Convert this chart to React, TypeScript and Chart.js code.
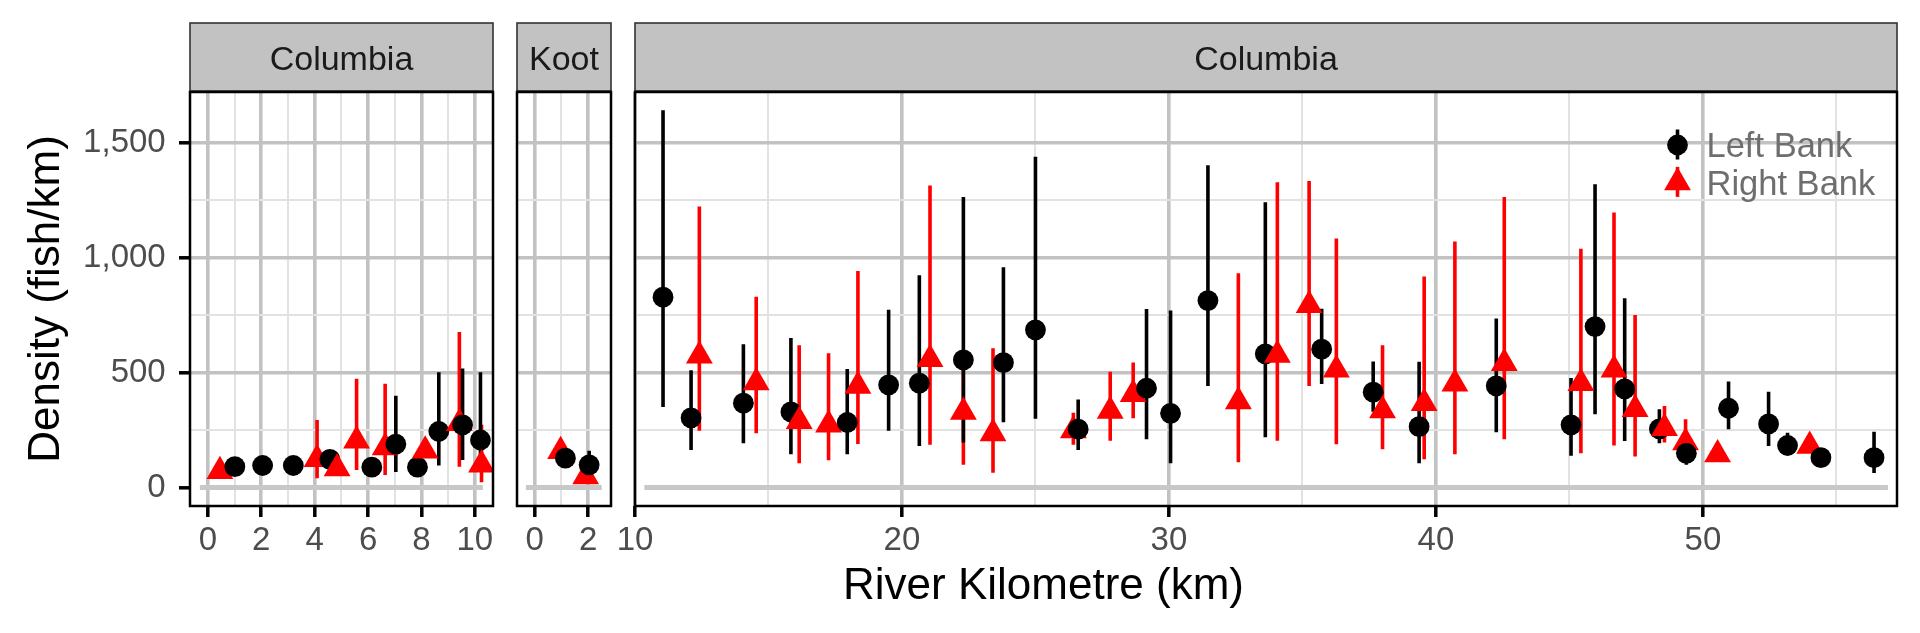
import React, { useEffect, useRef } from 'react';
import { Chart, registerables } from 'chart.js';

Chart.register(...registerables);

const FONT = '"Liberation Sans", Arial, Helvetica, sans-serif';

// ---------- text ----------
const STRIP_LABELS = ['Columbia', 'Koot', 'Columbia'];
const LEGEND_LABELS = ['Left Bank', 'Right Bank'];
const Y_TITLE = 'Density (fish/km)';
const X_TITLE = 'River Kilometre (km)';

// ---------- ticks ----------
const Y_TICKS = [0, 250, 500, 750, 1000, 1250, 1500];
const Y_MAJOR = [0, 500, 1000, 1500];
const X_TICKS_1 = [0, 1, 2, 3, 4, 5, 6, 7, 8, 9, 10];
const X_MAJOR_1 = [0, 2, 4, 6, 8, 10];
const X_TICKS_2 = [0, 1, 2];
const X_MAJOR_2 = [0, 2];
const X_TICKS_3 = [10, 15, 20, 25, 30, 35, 40, 45, 50, 55];
const X_MAJOR_3 = [10, 20, 30, 40, 50];

// ---------- data: Columbia (upper, 0-10 km) ----------
const LB1_KM = [1.01, 2.05, 3.2, 4.57, 6.14, 7.04, 7.85, 8.65, 9.54, 10.21];
const LB1_D = [91, 96, 96, 123, 89, 189, 89, 244, 273, 207];
const LB1_LO = [82, 87, 87, 100, 80, 68, 80, 96, 120, 110];
const LB1_HI = [100, 105, 105, 150, 98, 399, 98, 502, 518, 502];

const RB1_KM = [0.45, 4.09, 4.84, 5.57, 6.64, 8.14, 9.42, 10.25];
const RB1_D = [71, 123, 83, 204, 174, 160, 280, 99];
const RB1_LO = [62, 41, 70, 77, 55, 140, 91, 23];
const RB1_HI = [80, 294, 100, 473, 452, 185, 677, 273];

// ---------- data: Kootenay ----------
const LB2_KM = [1.15, 2.04];
const LB2_D = [128, 99];
const LB2_LO = [115, 80];
const LB2_HI = [140, 160];

const RB2_KM = [0.97, 1.91];
const RB2_D = [158, 48];
const RB2_LO = [145, 40];
const RB2_HI = [170, 58];

// ---------- data: Columbia (lower, 10-57 km) ----------
const LB3_KM = [11.05, 12.1, 14.06, 15.84, 17.95, 19.5, 20.65, 22.3, 23.8, 25.0, 26.6, 29.16, 30.06, 31.46, 33.61, 35.72, 37.65, 39.37, 42.26, 45.06, 45.96, 47.07, 48.37, 49.38, 50.96, 52.46, 53.17, 54.42, 56.41];
const LB3_D = [828, 303, 367, 329, 283, 447, 454, 555, 543, 686, 254, 432, 323, 813, 581, 602, 415, 265, 442, 273, 700, 429, 255, 149, 345, 277, 183, 130, 130];
const LB3_LO = [350, 164, 193, 145, 145, 247, 181, 196, 284, 299, 164, 210, 106, 442, 219, 450, 330, 106, 241, 139, 319, 203, 193, 99, 254, 181, 157, 115, 63];
const LB3_HI = [1641, 510, 623, 650, 516, 773, 923, 1263, 958, 1438, 383, 776, 770, 1402, 1241, 778, 548, 547, 735, 476, 1319, 823, 341, 215, 461, 417, 239, 145, 243];

const RB3_KM = [12.41, 14.54, 16.15, 17.25, 18.35, 21.05, 22.3, 23.41, 26.42, 27.8, 28.66, 32.6, 34.06, 35.25, 36.27, 38.0, 39.56, 40.71, 42.56, 45.43, 46.67, 47.46, 48.56, 49.35, 50.55, 54.0];
const RB3_D = [573, 457, 289, 273, 442, 558, 329, 235, 248, 333, 406, 374, 577, 793, 512, 335, 367, 451, 541, 454, 512, 341, 258, 196, 144, 181];
const RB3_LO = [247, 236, 106, 119, 190, 186, 99, 65, 186, 204, 302, 110, 204, 442, 189, 167, 123, 145, 210, 149, 183, 135, 196, 135, 130, 165];
const RB3_HI = [1222, 830, 619, 584, 942, 1313, 600, 606, 325, 504, 544, 932, 1328, 1333, 1083, 619, 918, 1070, 1263, 1038, 1196, 750, 355, 297, 160, 200];

// zero reference line extents (km)
const ZERO_1 = [-0.3, 10.3];
const ZERO_2 = [-0.33, 2.51];
const ZERO_3 = [10.35, 56.93];

// ---------- axis ranges ----------
const Y_MIN = -80;
const Y_MAX = 1720;

// ---------- styling / layout ----------
const H = 633;
const PANEL_TOP = 92;
const PANEL_BOTTOM = 506;
const XAXIS_H = 60;
const GRID_MAJOR = '#C2C2C2';
const GRID_MINOR = '#E2E2E2';
const CLEAR = 'rgba(0,0,0,0)';
const RED = '#FF0000';
const BLACK = '#000000';
const CIRCLE_R = 10.4;
const TRI_R = 15.5;
const BAR_W = 3.6;
const MAJOR_W = 3.6;
const MINOR_W = 2;

type PanelCfg = {
  canvasLeft: number;
  canvasWidth: number;
  padLeft: number;
  padRight: number;
  yAxis: boolean;
  xMin: number;
  xMax: number;
  xTicks: number[];
  xMajor: number[];
  strip: string;
  legend: boolean;
  lbKm: number[]; lbD: number[]; lbLo: number[]; lbHi: number[];
  rbKm: number[]; rbD: number[]; rbLo: number[]; rbHi: number[];
  zero: number[];
};

const PANELS: PanelCfg[] = [
  {
    canvasLeft: 0, canvasWidth: 523, padLeft: 0, padRight: 30, yAxis: true,
    xMin: -0.67, xMax: 10.68, xTicks: X_TICKS_1, xMajor: X_MAJOR_1, strip: STRIP_LABELS[0], legend: false,
    lbKm: LB1_KM, lbD: LB1_D, lbLo: LB1_LO, lbHi: LB1_HI,
    rbKm: RB1_KM, rbD: RB1_D, rbLo: RB1_LO, rbHi: RB1_HI, zero: ZERO_1,
  },
  {
    canvasLeft: 487, canvasWidth: 154, padLeft: 30, padRight: 30, yAxis: false,
    xMin: -0.663, xMax: 2.858, xTicks: X_TICKS_2, xMajor: X_MAJOR_2, strip: STRIP_LABELS[1], legend: false,
    lbKm: LB2_KM, lbD: LB2_D, lbLo: LB2_LO, lbHi: LB2_HI,
    rbKm: RB2_KM, rbD: RB2_D, rbLo: RB2_LO, rbHi: RB2_HI, zero: ZERO_2,
  },
  {
    canvasLeft: 605, canvasWidth: 1315, padLeft: 30, padRight: 23, yAxis: false,
    xMin: 10, xMax: 57.27, xTicks: X_TICKS_3, xMajor: X_MAJOR_3, strip: STRIP_LABELS[2], legend: true,
    lbKm: LB3_KM, lbD: LB3_D, lbLo: LB3_LO, lbHi: LB3_HI,
    rbKm: RB3_KM, rbD: RB3_D, rbLo: RB3_LO, rbHi: RB3_HI, zero: ZERO_3,
  },
];

function bars(km: number[], lo: number[], hi: number[]) {
  const out: { x: number; y: number | null }[] = [];
  km.forEach((x, i) => {
    out.push({ x, y: lo[i] }, { x, y: hi[i] }, { x, y: null });
  });
  return out;
}

function buildPoints(p: PanelCfg) {
  const pts = [
    ...p.lbKm.map((x, i) => ({ x, y: p.lbD[i], s: 'L' })),
    ...p.rbKm.map((x, i) => ({ x, y: p.rbD[i], s: 'R' })),
  ];
  pts.sort((a, b) => a.x - b.x);
  return pts;
}

function triPath(ctx: CanvasRenderingContext2D, x: number, y: number, r: number) {
  ctx.beginPath();
  for (let k = 0; k < 3; k++) {
    const a = (k * 2 * Math.PI) / 3;
    const px = x + Math.sin(a) * r;
    const py = y - Math.cos(a) * r;
    if (k === 0) ctx.moveTo(px, py);
    else ctx.lineTo(px, py);
  }
  ctx.closePath();
}

const panelDecor = {
  id: 'panelDecor',
  afterDraw(chart: any, _args: any, opts: any) {
    const { ctx, chartArea: a } = chart;
    ctx.save();
    // strip
    ctx.fillStyle = '#C2C2C2';
    ctx.fillRect(a.left, 23, a.right - a.left, 68);
    ctx.strokeStyle = '#333333';
    ctx.lineWidth = 1.6;
    ctx.strokeRect(a.left, 23, a.right - a.left, 68);
    ctx.fillStyle = '#1A1A1A';
    ctx.font = `34px ${FONT}`;
    ctx.textAlign = 'center';
    ctx.textBaseline = 'alphabetic';
    ctx.fillText(opts.label, (a.left + a.right) / 2, 70);
    // panel border
    ctx.strokeStyle = '#000000';
    ctx.lineWidth = 2.5;
    ctx.strokeRect(a.left, a.top, a.right - a.left, a.bottom - a.top);
    // legend
    if (opts.legend) {
      const gx = a.right - 219.5;
      const rows = [
        { y: a.top + 53, color: BLACK, shape: 'circle', label: LEGEND_LABELS[0] },
        { y: a.top + 90.4, color: RED, shape: 'triangle', label: LEGEND_LABELS[1] },
      ];
      rows.forEach((r) => {
        ctx.strokeStyle = r.color;
        ctx.lineWidth = BAR_W;
        ctx.beginPath();
        ctx.moveTo(gx, r.y - 15.5);
        ctx.lineTo(gx, r.y + 14.5);
        ctx.stroke();
        ctx.fillStyle = r.color;
        if (r.shape === 'circle') {
          ctx.beginPath();
          ctx.arc(gx, r.y, CIRCLE_R, 0, Math.PI * 2);
          ctx.fill();
        } else {
          triPath(ctx, gx, r.y, TRI_R);
          ctx.fill();
        }
        ctx.fillStyle = '#6E6E6E';
        ctx.font = `34.5px ${FONT}`;
        ctx.textAlign = 'left';
        ctx.textBaseline = 'alphabetic';
        ctx.fillText(r.label, gx + 29, r.y + 12.2);
      });
    }
    ctx.restore();
  },
};

function isIn(arr: number[], v: number) {
  return arr.some((m) => Math.abs(m - v) < 1e-9);
}

function makeChart(canvas: HTMLCanvasElement, p: PanelCfg) {
  const points = buildPoints(p);
  const xMajor = (v: number) => isIn(p.xMajor, v);
  const yMajor = (v: number) => isIn(Y_MAJOR, v);

  return new Chart(canvas, {
    type: 'scatter',
    data: {
      datasets: [
        {
          label: 'points',
          data: points,
          showLine: false,
          pointStyle: points.map((d) => (d.s === 'L' ? 'circle' : 'triangle')) as any,
          pointRadius: points.map((d) => (d.s === 'L' ? CIRCLE_R : TRI_R)),
          pointBackgroundColor: points.map((d) => (d.s === 'L' ? BLACK : RED)),
          pointBorderWidth: 0,
          pointBorderColor: CLEAR,
          clip: 0,
        } as any,
        {
          label: 'lb-range',
          data: bars(p.lbKm, p.lbLo, p.lbHi),
          showLine: true,
          spanGaps: false,
          borderColor: BLACK,
          borderWidth: BAR_W,
          pointRadius: 0,
          clip: 0,
        } as any,
        {
          label: 'rb-range',
          data: bars(p.rbKm, p.rbLo, p.rbHi),
          showLine: true,
          spanGaps: false,
          borderColor: RED,
          borderWidth: BAR_W,
          pointRadius: 0,
          clip: 0,
        } as any,
        {
          label: 'zero',
          data: [{ x: p.zero[0], y: 0 }, { x: p.zero[1], y: 0 }],
          showLine: true,
          borderColor: '#C8C8C8',
          borderWidth: 5,
          pointRadius: 0,
          clip: 0,
        } as any,
      ],
    },
    options: {
      responsive: false,
      animation: false,
      devicePixelRatio: 1,
      events: [],
      layout: {
        padding: { left: p.padLeft, right: p.padRight, top: PANEL_TOP, bottom: H - PANEL_BOTTOM - XAXIS_H },
      },
      plugins: {
        legend: { display: false },
        tooltip: { enabled: false },
        panelDecor: { label: p.strip, legend: p.legend },
      } as any,
      scales: {
        x: {
          type: 'linear',
          min: p.xMin,
          max: p.xMax,
          afterBuildTicks: (s: any) => {
            s.ticks = p.xTicks.map((v) => ({ value: v }));
          },
          afterFit: (s: any) => {
            s.height = XAXIS_H;
            s.paddingLeft = 0;
            s.paddingRight = 0;
          },
          border: { display: false },
          grid: {
            color: (c: any) => (c.tick && xMajor(c.tick.value) ? GRID_MAJOR : GRID_MINOR),
            lineWidth: (c: any) => (c.tick && xMajor(c.tick.value) ? MAJOR_W : MINOR_W),
            drawTicks: true,
            tickLength: 11,
            tickWidth: 3.5,
            tickColor: (c: any) => (c.tick && xMajor(c.tick.value) ? BLACK : CLEAR),
          },
          ticks: {
            autoSkip: false,
            maxRotation: 0,
            minRotation: 0,
            padding: 4.5,
            color: '#4D4D4D',
            font: { family: FONT, size: 33 },
            callback: (v: any) => (xMajor(Number(v)) ? String(v) : ''),
          },
        },
        y: {
          type: 'linear',
          min: Y_MIN,
          max: Y_MAX,
          afterBuildTicks: (s: any) => {
            s.ticks = Y_TICKS.map((v) => ({ value: v }));
          },
          afterFit: (s: any) => {
            s.width = p.yAxis ? 190 : 0;
            s.paddingTop = 0;
            s.paddingBottom = 0;
          },
          border: { display: false },
          grid: {
            color: (c: any) => {
              if (!c.tick) return GRID_MINOR;
              const v = c.tick.value;
              if (v === 0) return CLEAR;
              return yMajor(v) ? GRID_MAJOR : GRID_MINOR;
            },
            lineWidth: (c: any) => (c.tick && yMajor(c.tick.value) ? MAJOR_W : MINOR_W),
            drawTicks: p.yAxis,
            tickLength: 11,
            tickWidth: 3.5,
            tickColor: (c: any) => (c.tick && yMajor(c.tick.value) ? BLACK : CLEAR),
          },
          ticks: {
            display: p.yAxis,
            padding: 13.3,
            color: '#4D4D4D',
            font: { family: FONT, size: 33 },
            callback: (v: any) => (yMajor(Number(v)) ? Number(v).toLocaleString('en-US') : ''),
          },
          title: {
            display: p.yAxis,
            text: Y_TITLE,
            color: '#000000',
            font: { family: FONT, size: 44, lineHeight: 1.2 },
            padding: { top: 20, bottom: 0 },
          },
        },
      },
    },
    plugins: [panelDecor as any],
  } as any);
}

function PanelChart({ cfg }: { cfg: PanelCfg }) {
  const ref = useRef<HTMLCanvasElement | null>(null);
  useEffect(() => {
    if (!ref.current) return;
    const chart = makeChart(ref.current, cfg);
    return () => chart.destroy();
  }, [cfg]);
  return (
    <canvas
      ref={ref}
      width={cfg.canvasWidth}
      height={H}
      style={{ position: 'absolute', left: cfg.canvasLeft, top: 0, width: cfg.canvasWidth, height: H }}
    />
  );
}

export default function App() {
  return (
    <div style={{ position: 'absolute', left: 0, top: 0, width: 1920, height: H, background: '#FFFFFF', overflow: 'hidden' }}>
      {PANELS.map((p, i) => (
        <PanelChart key={i} cfg={p} />
      ))}
      <div
        style={{
          position: 'absolute',
          left: 190,
          width: 1707,
          top: 562,
          textAlign: 'center',
          fontFamily: FONT,
          fontSize: 44,
          lineHeight: '44px',
          color: '#000000',
          whiteSpace: 'nowrap',
        }}
      >
        {X_TITLE}
      </div>
    </div>
  );
}
